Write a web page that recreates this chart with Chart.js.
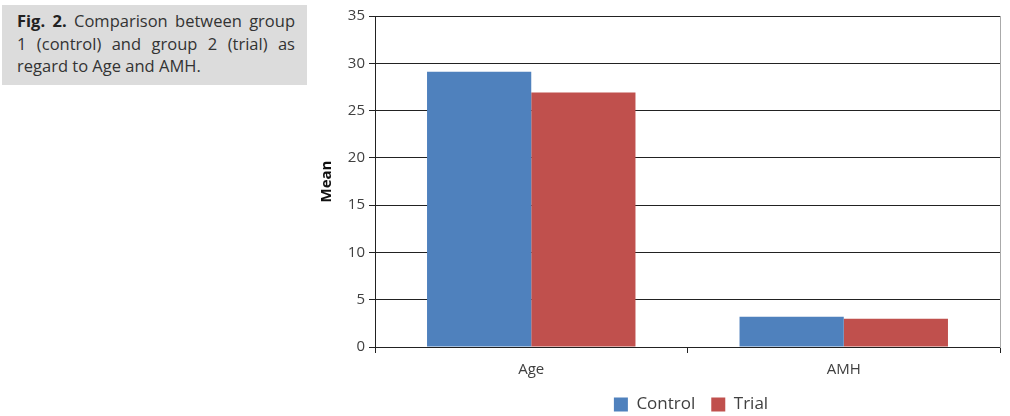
<!DOCTYPE html>
<html>
<head>
<meta charset="utf-8">
<script src="https://cdn.jsdelivr.net/npm/chart.js@4.4.1/dist/chart.umd.min.js"></script>
<style>
    body { margin: 0; background: #fff; width: 1010px; height: 416px; overflow: hidden; position: relative; font-family: "Open Sans", sans-serif; }
    .caption {
        position: absolute; left: 2px; top: 5px; width: 305px; height: 80px;
        background: #dcdcdc; box-sizing: border-box; padding: 5px 12px 0 15px;
        font-size: 16.5px; line-height: 22.5px; color: #333;
    }
    .caption span { display: block; white-space: nowrap; }
    .caption .full { text-align: justify; text-align-last: justify; white-space: normal; }
    .caption b { color: #222; }
    #wrap { position: absolute; left: 310px; top: 0; width: 700px; height: 423px; }
</style>
</head>
<body>
<div class="caption">
    <span class="full"><b>Fig. 2.</b> Comparison between group</span>
    <span class="full">1 (control) and group 2 (trial) as</span>
    <span>regard to Age and AMH.</span>
</div>
<div id="wrap"><canvas id="meanChart"></canvas></div>
<script>
const categories = ['Age', 'AMH'];
const controlValues = [29.1, 3.2];
const trialValues = [26.9, 3.0];
const seriesNames = ['Control', 'Trial'];

document.addEventListener('DOMContentLoaded', function () {
    const textColor = '#404040';
    const tickFont = {family: '"Open Sans", sans-serif', size: 15};

    // legend sits under the plot area, not the whole canvas
    const legendShift = {
        id: 'legendShift',
        afterLayout(chart) {
            chart.legend.left += 34;
            chart.legend.right += 34;
        }
    };

    new Chart(document.getElementById('meanChart').getContext('2d'), {
        type: 'bar',
        data: {
            labels: categories,
            datasets: [{
                label: seriesNames[0],
                data: controlValues,
                backgroundColor: '#4f81bd',
                categoryPercentage: 0.667,
                barPercentage: 1
            }, {
                label: seriesNames[1],
                data: trialValues,
                backgroundColor: '#c0504d',
                categoryPercentage: 0.667,
                barPercentage: 1
            }]
        },
        options: {
            responsive: true,
            maintainAspectRatio: false,
            animation: false,
            layout: {padding: {top: 16, right: 10, left: 4, bottom: 0}},
            plugins: {
                tooltip: {enabled: false},
                legend: {
                    position: 'bottom',
                    labels: {boxWidth: 14, boxHeight: 14, padding: 16, color: textColor, font: {family: '"Open Sans", sans-serif', size: 17}}
                }
            },
            scales: {
                x: {
                    offset: true,
                    grid: {offset: true, drawOnChartArea: false, color: '#222', tickLength: 6},
                    border: {color: '#222'},
                    ticks: {color: textColor, font: tickFont, padding: 8},
                    afterFit: s => { s.height = 33; }
                },
                y: {
                    min: 0,
                    max: 35,
                    ticks: {stepSize: 5, color: textColor, font: tickFont, padding: 4},
                    grid: {color: '#222', tickLength: 6},
                    border: {color: '#222'},
                    title: {display: true, text: 'Mean', color: '#111', font: {family: '"Open Sans", sans-serif', size: 15, weight: 'bold'}},
                    afterFit: s => { s.width = 61; }
                },
                y2: {
                    position: 'right',
                    min: 0,
                    max: 35,
                    ticks: {display: false},
                    grid: {drawOnChartArea: false, drawTicks: false},
                    border: {color: '#aaa'},
                    afterFit: s => { s.width = 0; }
                }
            }
        },
        plugins: [legendShift]
    });
});
</script>
</body>
</html>
